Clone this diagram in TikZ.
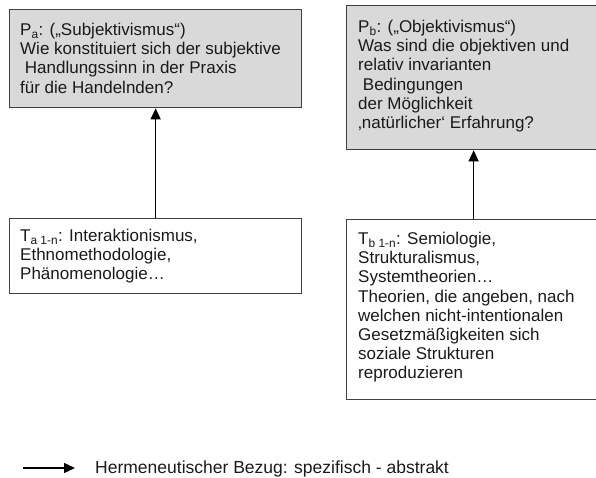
\documentclass[tikz,border=0pt]{standalone}
\usepackage{fontspec}
\setmainfont{Liberation Sans}
\usetikzlibrary{arrows.meta}
\definecolor{boxfill}{HTML}{D9D9D9}
\definecolor{boxline}{HTML}{404040}
\definecolor{txt}{HTML}{1A1A1A}
\tikzset{
  box/.style={draw=boxline, line width=1.3pt, anchor=north west, inner sep=0pt},
  pbox/.style={box, fill=boxfill},
  tbox/.style={box, fill=white},
  boxtext/.style={anchor=north west, inner sep=0pt, align=left, text=txt,
    font=\fontsize{17}{19.2}\selectfont},
  arr/.style={draw=black, line width=1.3pt, -{Triangle[length=11pt,width=10pt]}}
}
\begin{document}
\begin{tikzpicture}[x=1pt,y=-1pt]
\useasboundingbox (0,0) rectangle (596,477);
\clip (0,0) rectangle (596,477);
% boxes
\node[pbox, minimum width=292pt, minimum height=98pt] (pa) at (9,9) {};
\node[pbox, minimum width=254pt, minimum height=144pt] (pb) at (346,5) {};
\node[tbox, minimum width=292pt, minimum height=75pt] (ta) at (9,218) {};
\node[tbox, minimum width=254pt, minimum height=180pt] (tb) at (346,219) {};
% texts
\node[boxtext] (pat) at (20,23) {P\textsubscript{a}: („Subjektivismus“)\\
Wie konstituiert sich der subjektive\\
\ Handlungssinn in der Praxis\\
für die Handelnden?};
\node[boxtext] (pbt) at (358,20) {P\textsubscript{b}: („Objektivismus“)\\
Was sind die objektiven und\\
relativ invarianten\\
\ Bedingungen\\
der Möglichkeit\\
‚natürlicher‘ Erfahrung?};
\node[boxtext] (tat) at (20,229) {T\textsubscript{a 1-n}: Interaktionismus,\\
Ethnomethodologie,\\
Phänomenologie…};
\node[boxtext] (tbt) at (358,232) {T\textsubscript{b 1-n}: Semiologie,\\
Strukturalismus,\\
Systemtheorien…\\
Theorien, die angeben, nach\\
welchen nicht-intentionalen\\
Gesetzmäßigkeiten sich\\
soziale Strukturen\\
reproduzieren};
% connectors
\draw[arr] (ta.north) -- (pa.south);
\draw[arr] (tb.north) -- (pb.south);
% legend
\coordinate (ls) at (23,468);
\coordinate (le) at (75,468);
\draw[arr] (ls) -- (le);
\node[anchor=base west, inner sep=0pt, text=txt, font=\fontsize{17.5}{19}\selectfont] (leg) at (95,473) {Hermeneutischer Bezug: spezifisch - abstrakt};
\end{tikzpicture}
\end{document}
